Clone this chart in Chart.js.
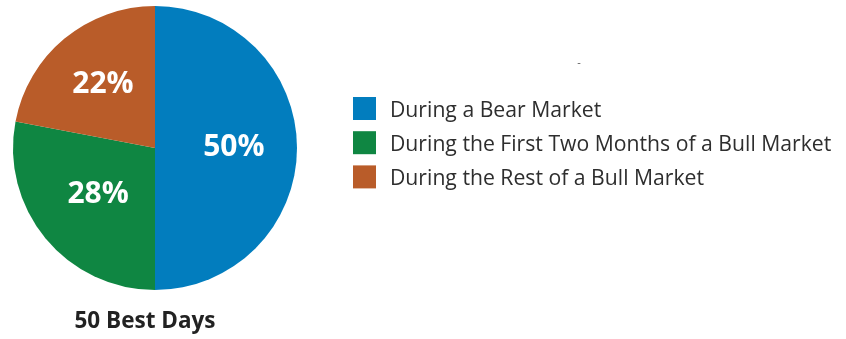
<!DOCTYPE html>
<html>
<head>
<meta charset="utf-8">
<script src="https://cdn.jsdelivr.net/npm/chart.js@4.4.1/dist/chart.umd.min.js"></script>
<style>
  html, body { margin: 0; padding: 0; background: #fff; }
  #wrap { width: 846px; height: 339px; }
</style>
</head>
<body>
<div id="wrap"><canvas id="myChart" width="846" height="339"></canvas></div>
<script>
var labels = ['During a Bear Market', 'During the First Two Months of a Bull Market', 'During the Rest of a Bull Market'];
var shares = [50, 28, 22];
var colors = ['#027dbe', '#0f8642', '#b95c29'];
var caption = '50 Best Days';

var FONT = '"Open Sans", sans-serif';
// how far out from the centre each percentage sits (fraction of radius)
var labelRadius = [0.555, 0.52, 0.575];

// percentage text inside each slice
var sliceLabels = {
    id: 'sliceLabels',
    afterDatasetsDraw: function(chart) {
        var ctx = chart.ctx;
        var meta = chart.getDatasetMeta(0);
        ctx.save();
        ctx.font = 'bold 30px ' + FONT;
        ctx.fillStyle = '#fff';
        ctx.textAlign = 'center';
        ctx.textBaseline = 'middle';
        meta.data.forEach(function(arc, i) {
            var mid = (arc.startAngle + arc.endAngle) / 2;
            var r = arc.outerRadius * labelRadius[i];
            ctx.fillText(shares[i] + '%', arc.x + Math.cos(mid) * r, arc.y + Math.sin(mid) * r - 1);
        });
        ctx.restore();
    }
};

// caption under the pie and the legend on the right
var sideText = {
    id: 'sideText',
    afterDraw: function(chart) {
        var ctx = chart.ctx;
        var arc = chart.getDatasetMeta(0).data[0];
        var ds = chart.data.datasets[0];
        ctx.save();
        ctx.font = 'bold 22.5px ' + FONT;
        ctx.fillStyle = '#222';
        ctx.textAlign = 'center';
        ctx.textBaseline = 'alphabetic';
        ctx.fillText(caption, arc.x - 10, 328);

        ctx.font = '11px ' + FONT;
        ctx.fillStyle = '#555';
        ctx.textBaseline = 'middle';
        ctx.fillText('-', 579, 63);

        ctx.font = '21.2px ' + FONT;
        ctx.textAlign = 'left';
        ctx.textBaseline = 'alphabetic';
        chart.data.labels.forEach(function(txt, i) {
            var y = 97 + i * 34.2;
            ctx.fillStyle = ds.backgroundColor[i];
            ctx.fillRect(353, y, 23, 23);
            ctx.fillStyle = '#2e2e2e';
            ctx.fillText(txt, 390, y + 19.7);
        });
        ctx.restore();
    }
};

var ctxx = document.getElementById('myChart');
var myChart = new Chart(ctxx, {
    type: 'pie',
    data: {
        labels: labels,
        datasets: [{
            data: shares,
            backgroundColor: colors,
            borderWidth: 0
        }]
    },
    options: {
        responsive: false,
        animation: false,
        rotation: 0,
        layout: {
            padding: { left: 13, top: 6, right: 549, bottom: 49 }
        },
        plugins: {
            legend: { display: false },
            tooltip: { enabled: false }
        }
    },
    plugins: [sliceLabels, sideText]
});
</script>
</body>
</html>
